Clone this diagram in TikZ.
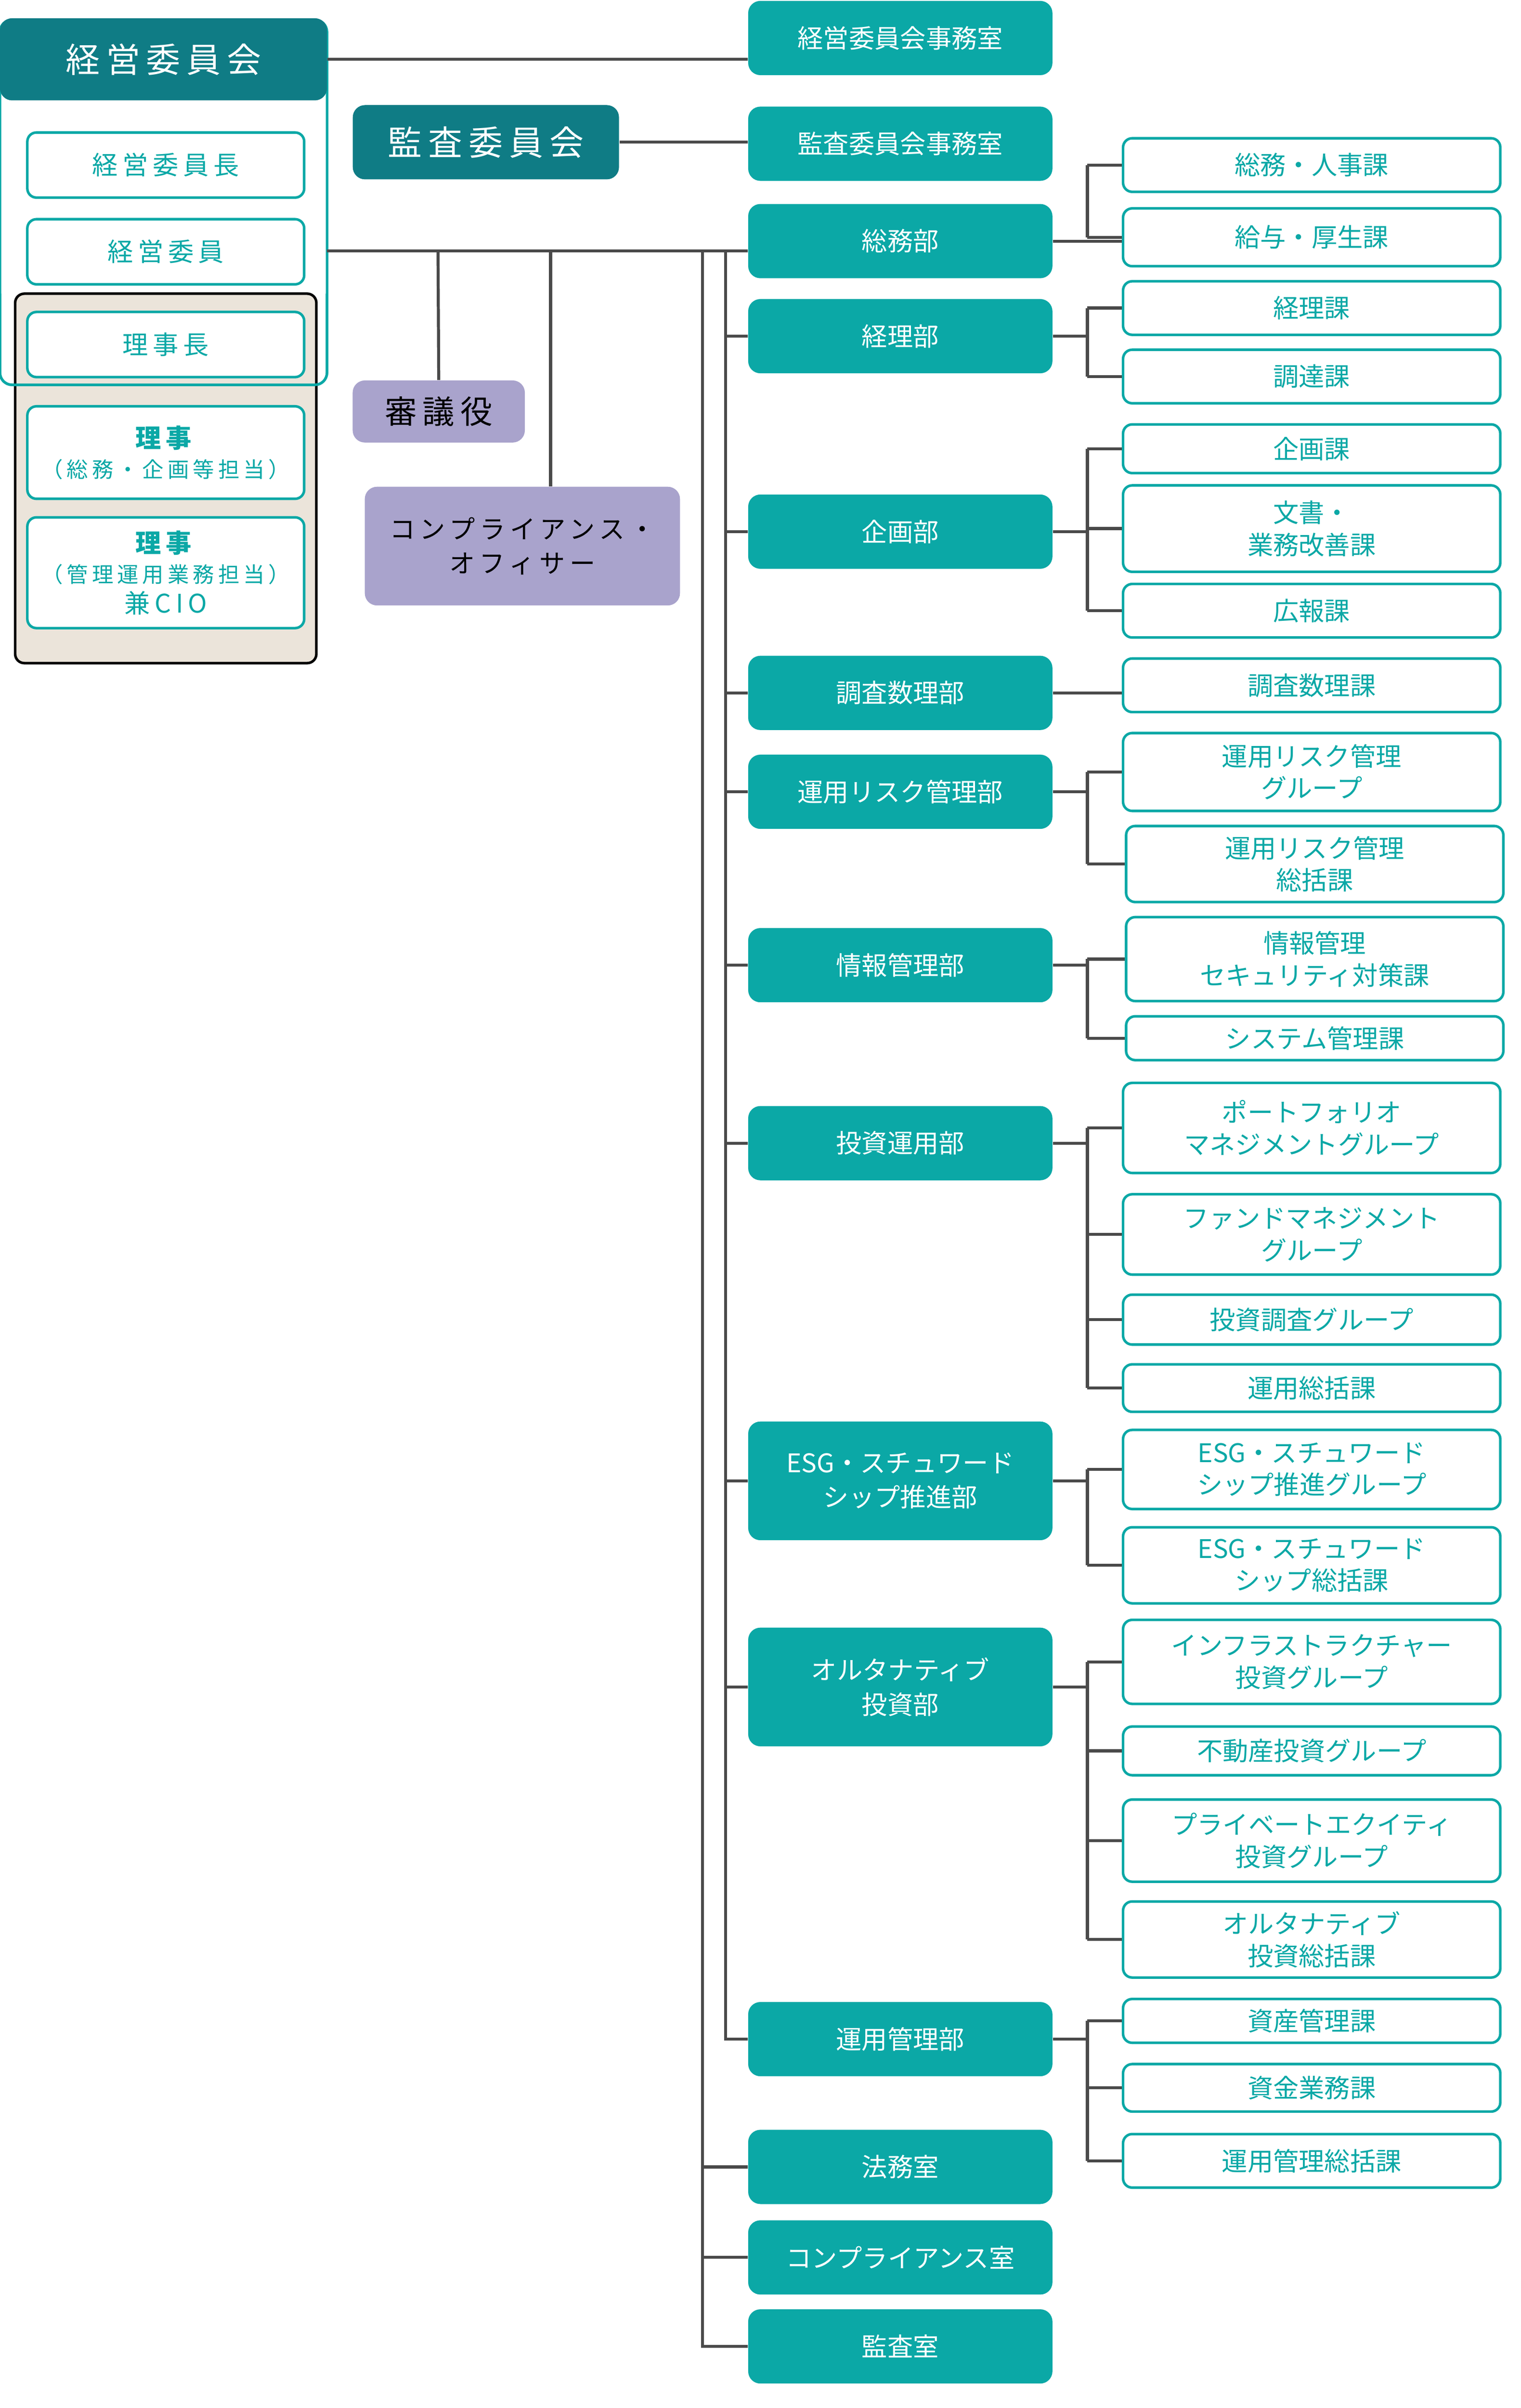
\documentclass[tikz,border=0pt]{standalone}
\usepackage{fontspec}
\setmainfont{Noto Sans CJK JP}
\newfontfamily\jpwide[LetterSpace=18]{Noto Sans CJK JP}
\usepackage{xcolor}
\definecolor{orgTeal}{HTML}{0BA8A6}
\definecolor{orgDark}{HTML}{0F7C85}
\definecolor{orgLav}{HTML}{A9A3CC}
\definecolor{orgBeige}{HTML}{EBE4DA}
\definecolor{orgLine}{HTML}{4A4A4A}
\usetikzlibrary{positioning}
\tikzset{
    dept/.style={
        fill=orgTeal,
        draw=none,
        rectangle,
        rounded corners=2mm,
        align=center,
        minimum width=5cm,
        minimum height=1.22cm,
        text=white,
        font=\fontsize{12}{16}\selectfont
    },
    sect/.style={
        draw=orgTeal,
        fill=white,
        line width=1.2pt,
        rectangle,
        rounded corners=1.5mm,
        align=center,
        minimum width=6.2cm,
        text=orgTeal,
        font=\fontsize{12}{15}\selectfont
    },
    head/.style={
        fill=orgDark,
        draw=none,
        rectangle,
        rounded corners=2mm,
        text=white,
        font=\jpwide\fontsize{16}{18}\selectfont
    },
    member/.style={
        draw=orgTeal,
        fill=white,
        line width=1.2pt,
        rectangle,
        rounded corners=1.5mm,
        align=center,
        minimum width=4.55cm,
        text=orgTeal,
        font=\jpwide\fontsize{12}{15}\selectfont
    },
    advisor/.style={
        fill=orgLav,
        draw=none,
        rectangle,
        rounded corners=2mm,
        align=center,
        text=black,
        font=\jpwide\fontsize{12}{16}\selectfont
    },
    conn/.style={
        draw=orgLine,
        line width=1.4pt
    }
}
\begin{document}
\begin{tikzpicture}[x=0.025cm,y=-0.025cm]
    \useasboundingbox (0,0) rectangle (1000,1583);

    % Committee frame
    \node[draw=orgTeal, fill=white, line width=1.2pt, rounded corners=2mm,
        minimum width=5.375cm, minimum height=6cm] (board) at (107.5,133) {};
    \node[draw=black, fill=orgBeige, line width=1.2pt, rounded corners=1.5mm,
        minimum width=4.95cm, minimum height=6.07cm] (exec) at (109,314.5) {};
    \draw[orgTeal, line width=1.2pt, rounded corners=2mm]
        (0,193) -- (0,253) -- (215,253) -- (215,193);
    \node[head, minimum width=5.375cm, minimum height=1.35cm,
        rounded corners=2mm] (boardhead) at (107.5,39) {経営委員会};
    \node[member, minimum height=1.07cm] (chair) at (109,108.5) {経営委員長};
    \node[member, minimum height=1.07cm] (memb) at (109,165.5) {経営委員};
    \node[member, minimum height=1.07cm] (pres) at (109,226.5) {理事長};
    \node[member, minimum height=1.52cm, font=\jpwide\fontsize{12}{14}\selectfont] (dir1) at (109,297.5)
        {\textbf{理事}\\{\fontsize{10}{13}\selectfont（総務・企画等担当）}};
    \node[member, minimum height=1.82cm, font=\jpwide\fontsize{12}{14}\selectfont] (dir2) at (109,376.5)
        {\textbf{理事}\\{\fontsize{10}{13}\selectfont（管理運用業務担当）}\\兼CIO};

    % Audit and advisors
    \node[head, minimum width=4.375cm, minimum height=1.22cm] (audit) at (319.5,93.5) {監査委員会};
    \node[advisor, minimum width=2.83cm, minimum height=1.02cm,
        font=\jpwide\fontsize{15}{18}\selectfont] (councilor) at (288.5,270.5) {審議役};
    \node[advisor, minimum width=5.18cm, minimum height=1.95cm] (cofficer) at (343.5,359)
        {コンプライアンス・\\オフィサー};

    % Departments
    \node[dept] (bsec) at (592,25) {経営委員会事務室};
    \node[dept] (asec) at (592,94.5) {監査委員会事務室};
    \node[dept] (soumu) at (592,158.5) {総務部};
    \node[dept] (keiri) at (592,221) {経理部};
    \node[dept] (kikaku) at (592,349.5) {企画部};
    \node[dept] (chousa) at (592,455.5) {調査数理部};
    \node[dept] (risk) at (592,520.5) {運用リスク管理部};
    \node[dept] (joho) at (592,634.5) {情報管理部};
    \node[dept] (toushi) at (592,751.5) {投資運用部};
    \node[dept, minimum height=1.95cm] (esg) at (592,973.5) {ESG・スチュワード\\シップ推進部};
    \node[dept, minimum height=1.95cm] (alt) at (592,1109) {オルタナティブ\\投資部};
    \node[dept] (kanri) at (592,1340.5) {運用管理部};
    \node[dept] (houmu) at (592,1424.5) {法務室};
    \node[dept] (comp) at (592,1484) {コンプライアンス室};
    \node[dept] (kansa) at (592,1542.5) {監査室};

    % Sections
    \node[sect, minimum height=0.88cm] (s1) at (862.5,108.5) {総務・人事課};
    \node[sect, minimum height=0.95cm] (s2) at (862.5,156) {給与・厚生課};
    \node[sect, minimum height=0.88cm] (s3) at (862.5,202.5) {経理課};
    \node[sect, minimum height=0.88cm] (s4) at (862.5,247.5) {調達課};
    \node[sect, minimum height=0.8cm] (s5) at (862.5,295) {企画課};
    \node[sect, minimum height=1.42cm] (s6) at (862.5,347.5) {文書・\\業務改善課};
    \node[sect, minimum height=0.88cm] (s7) at (862.5,401.5) {広報課};
    \node[sect, minimum height=0.88cm] (s8) at (862.5,450.5) {調査数理課};
    \node[sect, minimum height=1.28cm] (s9) at (862.5,507.5) {運用リスク管理\\グループ};
    \node[sect, minimum height=1.25cm] (s10) at (864.5,568) {運用リスク管理\\総括課};
    \node[sect, minimum height=1.38cm] (s11) at (864.5,630.5) {情報管理\\セキュリティ対策課};
    \node[sect, minimum height=0.72cm] (s12) at (864.5,682.5) {システム管理課};
    \node[sect, minimum height=1.48cm] (s13) at (862.5,741.5) {ポートフォリオ\\マネジメントグループ};
    \node[sect, minimum height=1.32cm] (s14) at (862.5,811.5) {ファンドマネジメント\\グループ};
    \node[sect, minimum height=0.82cm] (s15) at (862.5,867.5) {投資調査グループ};
    \node[sect, minimum height=0.78cm] (s16) at (862.5,912.5) {運用総括課};
    \node[sect, minimum height=1.3cm] (s17) at (862.5,966) {ESG・スチュワード\\シップ推進グループ};
    \node[sect, minimum height=1.25cm] (s18) at (862.5,1029) {ESG・スチュワード\\シップ総括課};
    \node[sect, minimum height=1.38cm] (s19) at (862.5,1092.5) {インフラストラクチャー\\投資グループ};
    \node[sect, minimum height=0.8cm] (s20) at (862.5,1151) {不動産投資グループ};
    \node[sect, minimum height=1.35cm] (s21) at (862.5,1210) {プライベートエクイティ\\投資グループ};
    \node[sect, minimum height=1.25cm] (s22) at (862.5,1275) {オルタナティブ\\投資総括課};
    \node[sect, minimum height=0.72cm] (s23) at (862.5,1328.5) {資産管理課};
    \node[sect, minimum height=0.78cm] (s24) at (862.5,1372.5) {資金業務課};
    \node[sect, minimum height=0.88cm] (s25) at (862.5,1420.5) {運用管理総括課};

    % Upper connectors
    \begin{scope}[on background layer/.style={}]
    \draw[conn] (boardhead.east) -- (bsec.west |- boardhead.east);
    \draw[conn] (audit.east) -- (asec.west |- audit.east);
    \draw[conn] (215,165) -- (soumu.west |- 0,165);
    \draw[conn] (288,165) -- (councilor.north);
    \draw[conn] (362,165) -- (cofficer.north -| 362,0);
    \draw[conn] (462,165) |- (kansa.west);
    \draw[conn] (462,165) |- (houmu.west);
    \draw[conn] (462,165) |- (comp.west);
    \draw[conn] (477,165) |- (kanri.west);
    \foreach \d in {keiri,kikaku,chousa,risk,joho,toushi,esg,alt}
        \draw[conn] (477,165) |- (\d.west);
    \end{scope}

    % Section connectors
    \foreach \d/\first/\last in {soumu/s1/s2, keiri/s3/s4, kikaku/s5/s7, risk/s9/s10,
        joho/s11/s12, toushi/s13/s16, esg/s17/s18, alt/s19/s22, kanri/s23/s25}
    {
        \draw[conn] (\d.east) -- (715,0 |- \d.east);
        \draw[conn] (715,0 |- \first.west) -- (715,0 |- \last.west);
    }
    \foreach \s in {s1,s2,s3,s4,s5,s6,s7,s9,s10,s11,s12,s13,s14,s15,s16,s17,s18,s19,s20,s21,s22,s23,s24,s25}
        \draw[conn] (715,0 |- \s.west) -- (\s.west);
    \draw[conn] (chousa.east) -- (s8.west |- chousa.east);
    \draw[conn] (soumu.east) -- (s2.west |- soumu.east);
\end{tikzpicture}
\end{document}
